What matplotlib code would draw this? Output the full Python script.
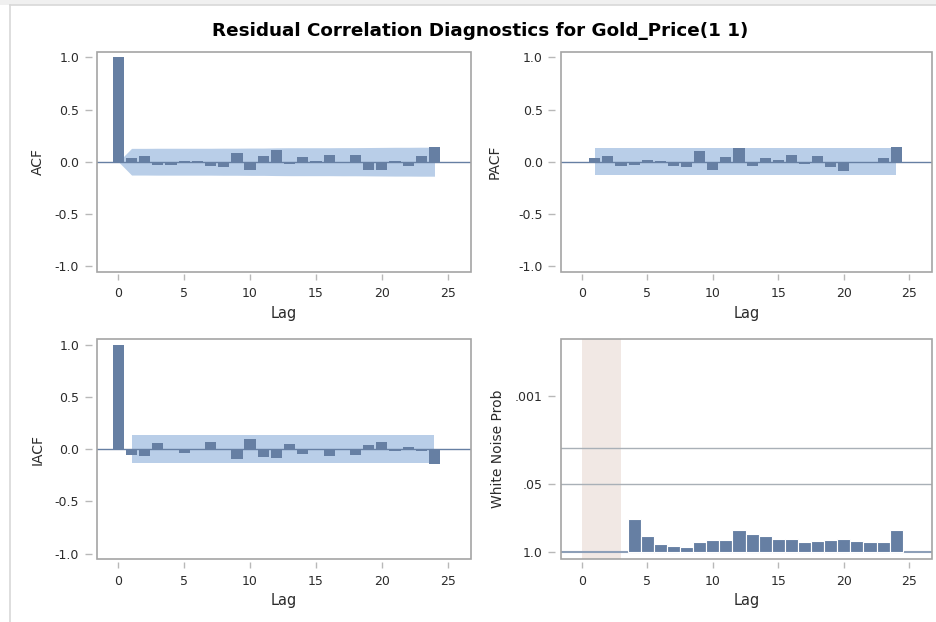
import numpy as np
import matplotlib
matplotlib.use('Agg')
import matplotlib.pyplot as plt
from matplotlib.patches import Rectangle
from matplotlib.lines import Line2D

# Residual autocorrelations
acf_lags = list(range(0, 25))
acf_vals = [1.0, 0.035, 0.05, -0.03, -0.03, 0.003, 0.01, -0.04, -0.055, 0.083,
            -0.077, 0.055, 0.115, -0.02, 0.045, 0.005, 0.06, -0.013, 0.064, -0.077,
            -0.077, 0.002, -0.045, 0.058, 0.138]
# ACF confidence band (0 at lag 0, then two std errors)
acf_band = [0.0, 0.128, 0.128, 0.129, 0.129, 0.129, 0.129, 0.129, 0.130, 0.130,
            0.131, 0.131, 0.133, 0.134, 0.134, 0.134, 0.134, 0.135, 0.135, 0.136,
            0.137, 0.138, 0.138, 0.139, 0.139]

pacf_lags = list(range(1, 25))
pacf_vals = [0.035, 0.055, -0.04, -0.03, 0.015, 0.005, -0.045, -0.055, 0.1, -0.08,
             0.048, 0.128, -0.045, 0.032, 0.02, 0.067, -0.02, 0.055, -0.048, -0.093,
             0.0, -0.016, 0.032, 0.144]

iacf_lags = list(range(0, 25))
iacf_vals = [1.0, -0.057, -0.07, 0.06, -0.005, -0.04, 0.0, 0.067, 0.005, -0.09,
             0.1, -0.073, -0.08, 0.048, -0.05, 0.0, -0.067, 0.0, -0.06, 0.038,
             0.07, -0.02, 0.025, -0.02, -0.14]

band_se = 0.132  # PACF / IACF band half-width

wn_lags = list(range(4, 25))
wn_pvals = [0.229, 0.485, 0.69, 0.78, 0.80, 0.64, 0.60, 0.60, 0.37, 0.45, 0.49,
            0.57, 0.57, 0.64, 0.62, 0.59, 0.55, 0.61, 0.65, 0.65, 0.38]
wn_shade = (0, 3)  # lags with no test (df <= 0)

BAR = '#667fa3'
BAND = '#b9cee8'
FRAME = '#a4a4a4'
TXT = '#2b2b2b'

W, H = 936, 622
fig = plt.figure(figsize=(W / 100, H / 100), dpi=100)
fig.patch.set_facecolor('white')

# screenshot frame
fig.patches.append(Rectangle((0, 1 - 5 / H), 1, 5 / H, transform=fig.transFigure,
                             facecolor='#f0f0f0', edgecolor='none'))
fig.lines.append(Line2D([10 / W, 10 / W], [0, 1 - 5 / H], transform=fig.transFigure,
                        color='#d8d8d8', lw=1.2))
fig.lines.append(Line2D([10 / W, 1], [1 - 5 / H, 1 - 5 / H], transform=fig.transFigure,
                        color='#d8d8d8', lw=1.2))


def px_axes(x0, y0, x1, y1):
    return fig.add_axes([x0 / W, 1 - y1 / H, (x1 - x0) / W, (y1 - y0) / H])


def style(ax, ylabel, label_x):
    for s in ax.spines.values():
        s.set_visible(False)
    ax.spines['left'].set_position(('outward', 4))
    ax.spines['bottom'].set_position(('outward', 2))
    ax.add_patch(Rectangle((0, 0), 1, 1, transform=ax.transAxes, fill=False,
                           edgecolor=FRAME, lw=1.2, clip_on=False, zorder=10))
    ax.tick_params(axis='y', length=5, width=1, color='#b8b8b8', pad=4,
                   labelsize=9, labelcolor=TXT)
    ax.tick_params(axis='x', length=4, width=1, color='#b8b8b8', pad=5,
                   labelsize=9, labelcolor=TXT)
    ax.set_xlim(-1.6, 26.75)
    ax.set_xticks([0, 5, 10, 15, 20, 25])
    ax.set_xlabel('Lag', fontsize=10.5, color=TXT)
    ax.xaxis.set_label_coords(0.5, -0.155)
    ax.set_ylabel(ylabel, fontsize=10, color=TXT)
    ax.yaxis.set_label_coords(label_x, 0.5)


def corr_panel(ax, lags, vals, ylabel, label_x, band_x, band_hi, band_lo):
    ax.fill_between(band_x, band_lo, band_hi, color=BAND, lw=0, zorder=1)
    ax.axhline(0, color=BAR, lw=1, zorder=2)
    ax.bar(lags, vals, width=0.85, color=BAR, zorder=3)
    ax.set_ylim(-1.055, 1.055)
    ax.set_yticks([-1.0, -0.5, 0.0, 0.5, 1.0])
    ax.set_yticklabels(['-1.0', '-0.5', '0.0', '0.5', '1.0'])
    style(ax, ylabel, label_x)


ax1 = px_axes(97.3, 51.7, 470.7, 271.7)
corr_panel(ax1, acf_lags, acf_vals, 'ACF', -0.14, acf_lags,
           acf_band, [-b for b in acf_band])

ax2 = px_axes(560.7, 51.7, 932.3, 271.7)
corr_panel(ax2, pacf_lags, pacf_vals, 'PACF', -0.158, [1, 24],
           [band_se, band_se], [-band_se, -band_se])

ax3 = px_axes(97.3, 339, 470.7, 559.3)
corr_panel(ax3, iacf_lags, iacf_vals, 'IACF', -0.14, [1, 24],
           [band_se, band_se], [-band_se, -band_se])

ax4 = px_axes(560.7, 339, 932.3, 559.3)
ax4.axvspan(wn_shade[0], wn_shade[1], color='#f1e8e4', lw=0, zorder=0)
ax4.axhline(-np.log10(0.05), color='#a9b0b7', lw=1, zorder=1)
ax4.axhline(-np.log10(0.01), color='#a9b0b7', lw=1, zorder=1)
ax4.axhline(0, color='#8d9fb8', lw=1.5, zorder=2)
ax4.bar(wn_lags, -np.log10(wn_pvals), width=1.0, color=BAR, edgecolor='white',
        lw=0.8, zorder=3)
ax4.set_ylim(-0.14, 4.1)
ax4.set_yticks([0, -np.log10(0.05), -np.log10(0.001)])
ax4.set_yticklabels(['1.0', '.05', '.001'])
style(ax4, 'White Noise Prob', -0.15)

fig.text(480 / W, 1 - 31 / H, 'Residual Correlation Diagnostics for Gold_Price(1 1)',
         ha='center', va='center', fontsize=13.2, fontweight='bold',
         family='DejaVu Sans', color='black')

fig.savefig('out.png', dpi=100)
